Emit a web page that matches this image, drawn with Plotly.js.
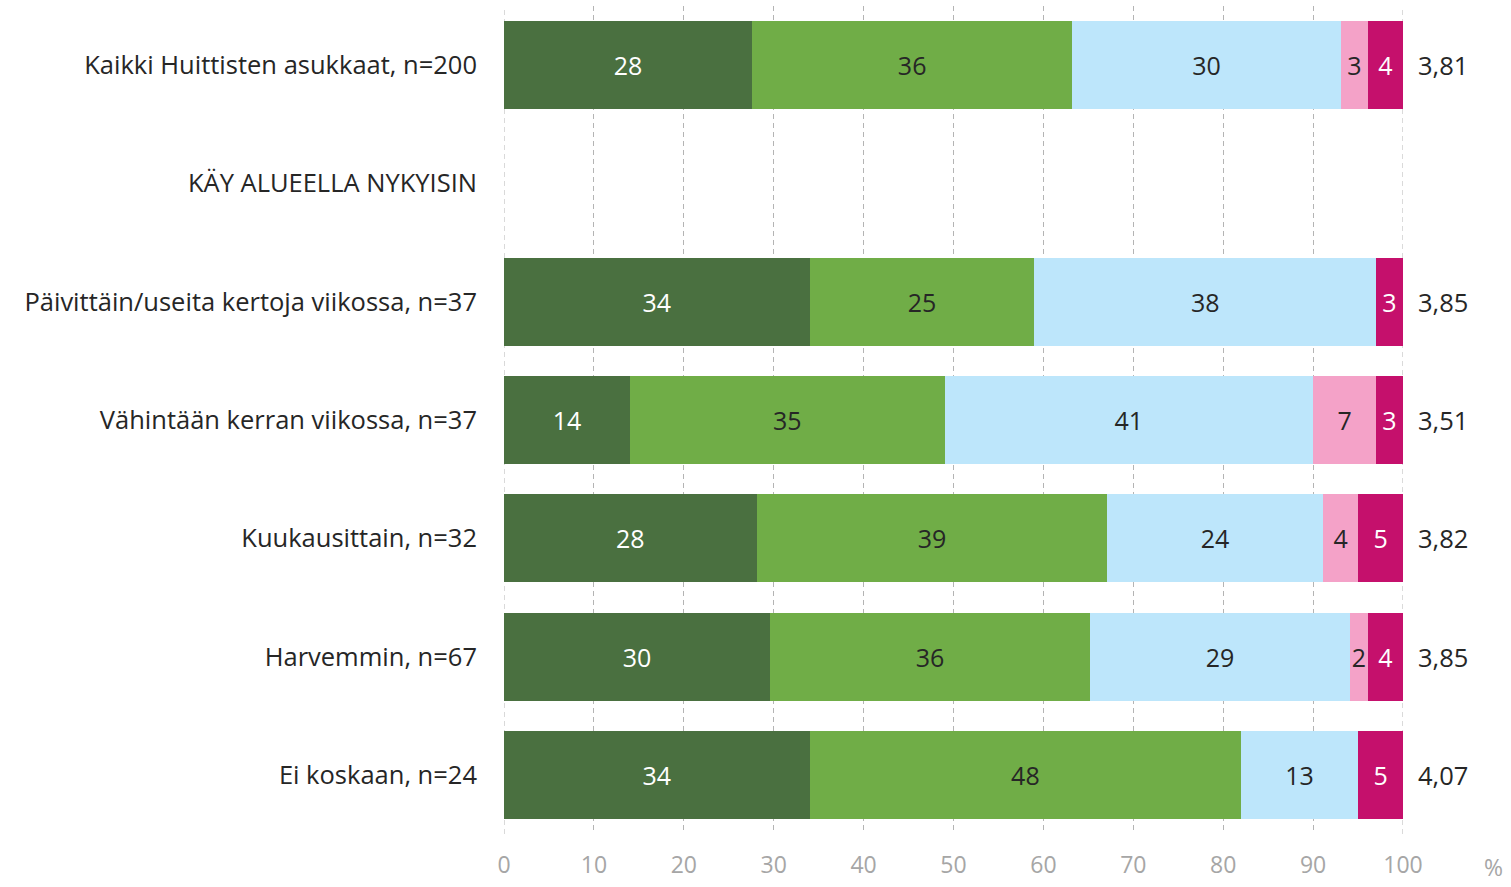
<!DOCTYPE html>
<html><head><meta charset="utf-8">
<script src="https://cdn.plot.ly/plotly-3.0.1.min.js"></script>
<style>html,body{margin:0;padding:0;background:#fff}#chart{width:1511px;height:887px}</style>
</head><body><div id="chart"></div>
<script>
const categories = [
  "Kaikki Huittisten asukkaat, n=200",
  "KÄY ALUEELLA NYKYISIN",
  "Päivittäin/useita kertoja viikossa, n=37",
  "Vähintään kerran viikossa, n=37",
  "Kuukausittain, n=32",
  "Harvemmin, n=67",
  "Ei koskaan, n=24"
];
const s1 = [27.6, null, 34.0, 14.0, 28.1, 29.6, 34.0];
const s2 = [35.6, null, 25.0, 35.0, 39.0, 35.6, 48.0];
const s3 = [29.9, null, 38.0, 41.0, 24.0, 28.9, 13.0];
const s4 = [3.0, null, 0, 7.0, 3.9, 2.0, 0];
const s5 = [3.9, null, 3.0, 3.0, 5.0, 3.9, 5.0];
const means = ["3,81", "", "3,85", "3,51", "3,82", "3,85", "4,07"];
const xticks = [0,10,20,30,40,50,60,70,80,90,100];

const colors = ["#4a7040", "#70ad47", "#bde6fb", "#f4a2c8", "#c5106c"];
const textColors = ["#ffffff", "#262626", "#262626", "#262626", "#ffffff"];
const series = [s1, s2, s3, s4, s5];
const font = "'Open Sans', sans-serif";
const gridColor = "#b4b4b4";
const gridDash = "5px,4px";

const traces = series.map((vals, i) => ({
  type: "bar",
  orientation: "h",
  y: categories,
  x: vals,
  marker: {color: colors[i], line: {width: 0}},
  text: vals.map(v => (v && v > 0) ? String(Math.round(v)) : ""),
  texttemplate: "%{text}",
  textposition: "inside",
  insidetextanchor: "middle",
  constraintext: "none",
  textfont: {family: font, size: 25, color: textColors[i]},
  hoverinfo: "skip",
  showlegend: false
}));

const annotations = categories.map((c, i) => ({
  x: 100, y: c, xref: "x", yref: "y",
  text: means[i], showarrow: false,
  xanchor: "left", xshift: 13,
  font: {family: font, size: 25.5, color: "#262626"}
})).filter(a => a.text);
annotations.push({
  x: 1, y: 0, xref: "paper", yref: "paper",
  text: "%", showarrow: false, xanchor: "left", yanchor: "top",
  xshift: 79, yshift: -15,
  font: {family: font, size: 23, color: "#a6a6a6"}
});

const shapes = [0, 100].map(v => ({
  type: "line", xref: "x", yref: "paper", x0: v, x1: v, y0: 0, y1: 1,
  layer: "below", line: {color: gridColor, width: 1, dash: gridDash}
}));

const layout = {
  width: 1511, height: 887,
  margin: {l: 504, r: 108, t: 6, b: 53},
  barmode: "stack",
  bargap: 0.256,
  paper_bgcolor: "#ffffff",
  plot_bgcolor: "#ffffff",
  xaxis: {
    range: [0, 100], tickvals: xticks, ticktext: xticks.map(String),
    showgrid: true, gridcolor: gridColor, griddash: gridDash, gridwidth: 1,
    zeroline: false, showline: false, ticks: "", ticklabelstandoff: 15,
    tickfont: {family: font, size: 23, color: "#a6a6a6"},
    fixedrange: true
  },
  yaxis: {
    autorange: "reversed", showgrid: false, zeroline: false, showline: false,
    ticks: "", ticklabelstandoff: 26,
    tickfont: {family: font, size: 25.5, color: "#262626"},
    fixedrange: true
  },
  shapes: shapes,
  annotations: annotations,
  font: {family: font}
};

Plotly.newPlot("chart", traces, layout, {displayModeBar: false, staticPlot: true});
</script>
</body></html>
